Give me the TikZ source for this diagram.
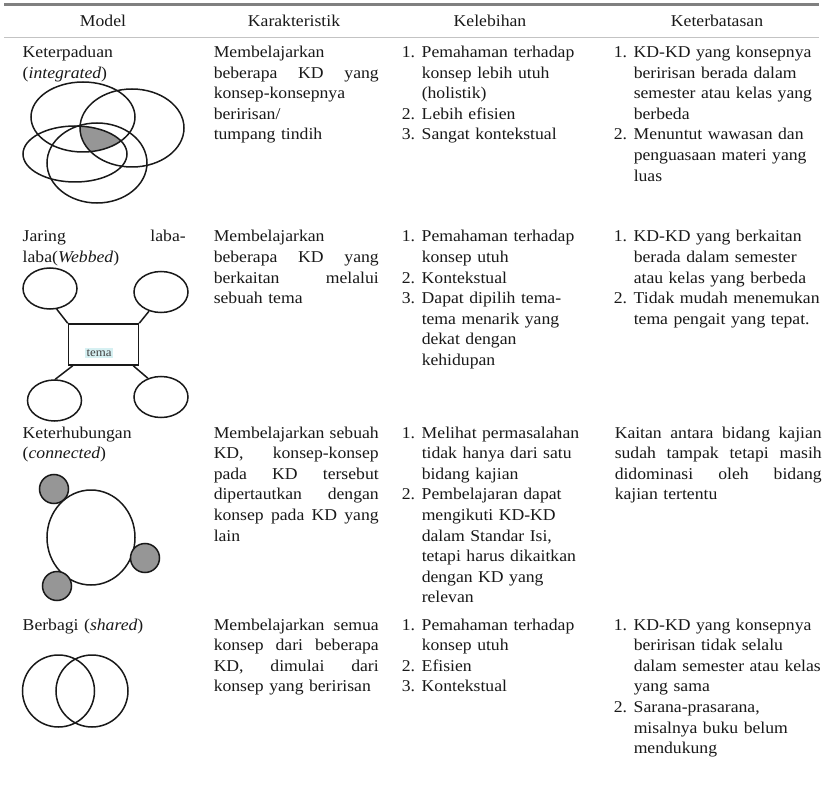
\documentclass[tikz,border=0pt]{standalone}
\usepackage{fontspec}
\setmainfont{Liberation Serif}[FakeStretch=1.07]
\usetikzlibrary{shapes.geometric}
\definecolor{shadegray}{RGB}{150,150,150}
\definecolor{rulegray}{RGB}{128,128,128}
\definecolor{lightrule}{RGB}{195,195,195}
\definecolor{hlcyan}{RGB}{214,240,242}
\definecolor{inkc}{RGB}{25,25,25}
\newcommand{\itm}[1]{\makebox[20pt][l]{#1}}
\newcommand{\cnt}{\hspace*{20pt}}
\begin{document}
\begin{tikzpicture}[x=1pt,y=-1pt,line width=1.5pt,
  txt/.style={anchor=base west,inner sep=0pt,align=left,text=inkc,
    font=\fontsize{16.5}{20.6}\selectfont},
  hdr/.style={anchor=base,inner sep=0pt,text=inkc,font=\fontsize{16.5}{20.6}\selectfont},
  web/.style={draw,ellipse,minimum width=54pt,minimum height=41pt,inner sep=0pt},
  shp/.style={draw=inkc,line width=1.5pt}]
\useasboundingbox (0,0) rectangle (823,797);
\fill[white] (0,0) rectangle (823,797);

% rules
\coordinate (ta) at (4,5); \coordinate (tb) at (819,5);
\coordinate (ha) at (4,38); \coordinate (hb) at (819,38);
\draw[rulegray,line width=3pt] (ta) -- (tb);
\draw[lightrule,line width=1pt] (ha) -- (hb);

% header
\node[hdr] (h1) at (103,27) {Model};
\node[hdr] (h2) at (294,27) {Karakteristik};
\node[hdr] (h3) at (490,27) {Kelebihan};
\node[hdr] (h4) at (717,27) {Keterbatasan};

% ---------- Row 1
\node[txt,text width=163pt] (m1) at (22,57.5) {Keterpaduan\\(\textit{integrated})};
\node[txt,text width=165pt] (c1) at (213,57.5) {Membelajarkan\\beberapa\hfill KD\hfill yang\\konsep-konsepnya\\beririsan/\\tumpang tindih};
\node[txt,text width=200pt] (l1) at (401,57.5) {\itm{1.}Pemahaman terhadap\\\cnt konsep lebih utuh\\\cnt (holistik)\\\itm{2.}Lebih efisien\\\itm{3.}Sangat kontekstual};
\node[txt,text width=208pt] (k1) at (613,57.5) {\itm{1.}KD-KD yang konsepnya\\\cnt beririsan berada dalam\\\cnt semester atau kelas yang\\\cnt berbeda\\\itm{2.}Menuntut wawasan dan\\\cnt penguasaan materi yang\\\cnt luas};

% integrated diagram
\begin{scope}
  \clip (83,117) ellipse [x radius=52pt,y radius=35pt];
  \clip (132,128) ellipse [x radius=52pt,y radius=39pt];
  \clip (75,154) ellipse [x radius=52pt,y radius=28pt];
  \fill[shadegray] (97,163) ellipse [x radius=50pt,y radius=40pt];
\end{scope}
\draw[shp] (83,117) ellipse [x radius=52pt,y radius=35pt];
\draw[shp] (132,128) ellipse [x radius=52pt,y radius=39pt];
\draw[shp] (75,154) ellipse [x radius=52pt,y radius=28pt];
\draw[shp] (97,163) ellipse [x radius=50pt,y radius=40pt];

% ---------- Row 2
\node[txt,text width=163pt] (m2) at (22,242) {Jaring\hfill laba-\\laba(\textit{Webbed})};
\node[txt,text width=165pt] (c2) at (213,242) {Membelajarkan\\beberapa\hfill KD\hfill yang\\berkaitan\hfill melalui\\sebuah tema};
\node[txt,text width=200pt] (l2) at (401,242) {\itm{1.}Pemahaman terhadap\\\cnt konsep utuh\\\itm{2.}Kontekstual\\\itm{3.}Dapat dipilih tema-\\\cnt tema menarik yang\\\cnt dekat dengan\\\cnt kehidupan};
\node[txt,text width=208pt] (k2) at (613,242) {\itm{1.}KD-KD yang berkaitan\\\cnt berada dalam semester\\\cnt atau kelas yang berbeda\\\itm{2.}Tidak mudah menemukan\\\cnt tema pengait yang tepat.};

% webbed diagram
\node[web,shp] (wtl) at (50,288.5) {};
\node[web,shp] (wtr) at (161,292) {};
\node[web,shp] (wbl) at (54.5,400.5) {};
\node[web,shp] (wbr) at (161,397) {};
\node[draw=inkc,line width=1.5pt,minimum width=70pt,minimum height=41pt,inner sep=0pt] (wr) at (103.5,344.5) {};
\node[fill=hlcyan,inner sep=1.5pt,text=black!75,font=\fontsize{12}{12}\selectfont] (wt) at (99,353) {tema};
\draw[shp] (wtl.-72) -- (wr.north west);
\draw[shp] (wtr.-122) -- (wr.north east);
\draw[shp] ([xshift=5pt]wr.south west) -- (wbl.88);
\draw[shp] ([xshift=-6pt]wr.south east) -- (wbr.125);

% ---------- Row 3
\node[txt,text width=163pt] (m3) at (22,438) {Keterhubungan\\(\textit{connected})};
\node[txt,text width=165pt] (c3) at (213,438) {Membelajarkan\hfill sebuah\\KD,\hfill konsep-konsep\\pada\hfill KD\hfill tersebut\\dipertautkan\hfill dengan\\konsep\hfill pada\hfill KD\hfill yang\\lain};
\node[txt,text width=200pt] (l3) at (401,438) {\itm{1.}Melihat permasalahan\\\cnt tidak hanya dari satu\\\cnt bidang kajian\\\itm{2.}Pembelajaran dapat\\\cnt mengikuti KD-KD\\\cnt dalam Standar Isi,\\\cnt tetapi harus dikaitkan\\\cnt dengan KD yang\\\cnt relevan};
\node[txt,text width=207pt] (k3) at (614,438) {Kaitan\hfill antara\hfill bidang\hfill kajian\\sudah\hfill tampak\hfill tetapi\hfill masih\\didominasi\hfill oleh\hfill bidang\\kajian tertentu};

% connected diagram
\draw[shp] (91,537.5) ellipse [x radius=44pt,y radius=47.5pt];
\filldraw[shp,fill=shadegray] (54,489) circle [radius=14.5pt];
\filldraw[shp,fill=shadegray] (145,558) circle [radius=14.5pt];
\filldraw[shp,fill=shadegray] (57,586) circle [radius=14.5pt];

% ---------- Row 4
\node[txt,text width=163pt] (m4) at (22,630) {Berbagi (\textit{shared})};
\node[txt,text width=165pt] (c4) at (213,630) {Membelajarkan\hfill semua\\konsep\hfill dari\hfill beberapa\\KD,\hfill dimulai\hfill dari\\konsep yang beririsan};
\node[txt,text width=200pt] (l4) at (401,630) {\itm{1.}Pemahaman terhadap\\\cnt konsep utuh\\\itm{2.}Efisien\\\itm{3.}Kontekstual};
\node[txt,text width=208pt] (k4) at (613,630) {\itm{1.}KD-KD yang konsepnya\\\cnt beririsan tidak selalu\\\cnt dalam semester atau kelas\\\cnt yang sama\\\itm{2.}Sarana-prasarana,\\\cnt misalnya buku belum\\\cnt mendukung};

% shared diagram
\draw[shp] (58.5,691) circle [radius=36pt];
\draw[shp] (92,691) circle [radius=36pt];
\end{tikzpicture}
\end{document}
